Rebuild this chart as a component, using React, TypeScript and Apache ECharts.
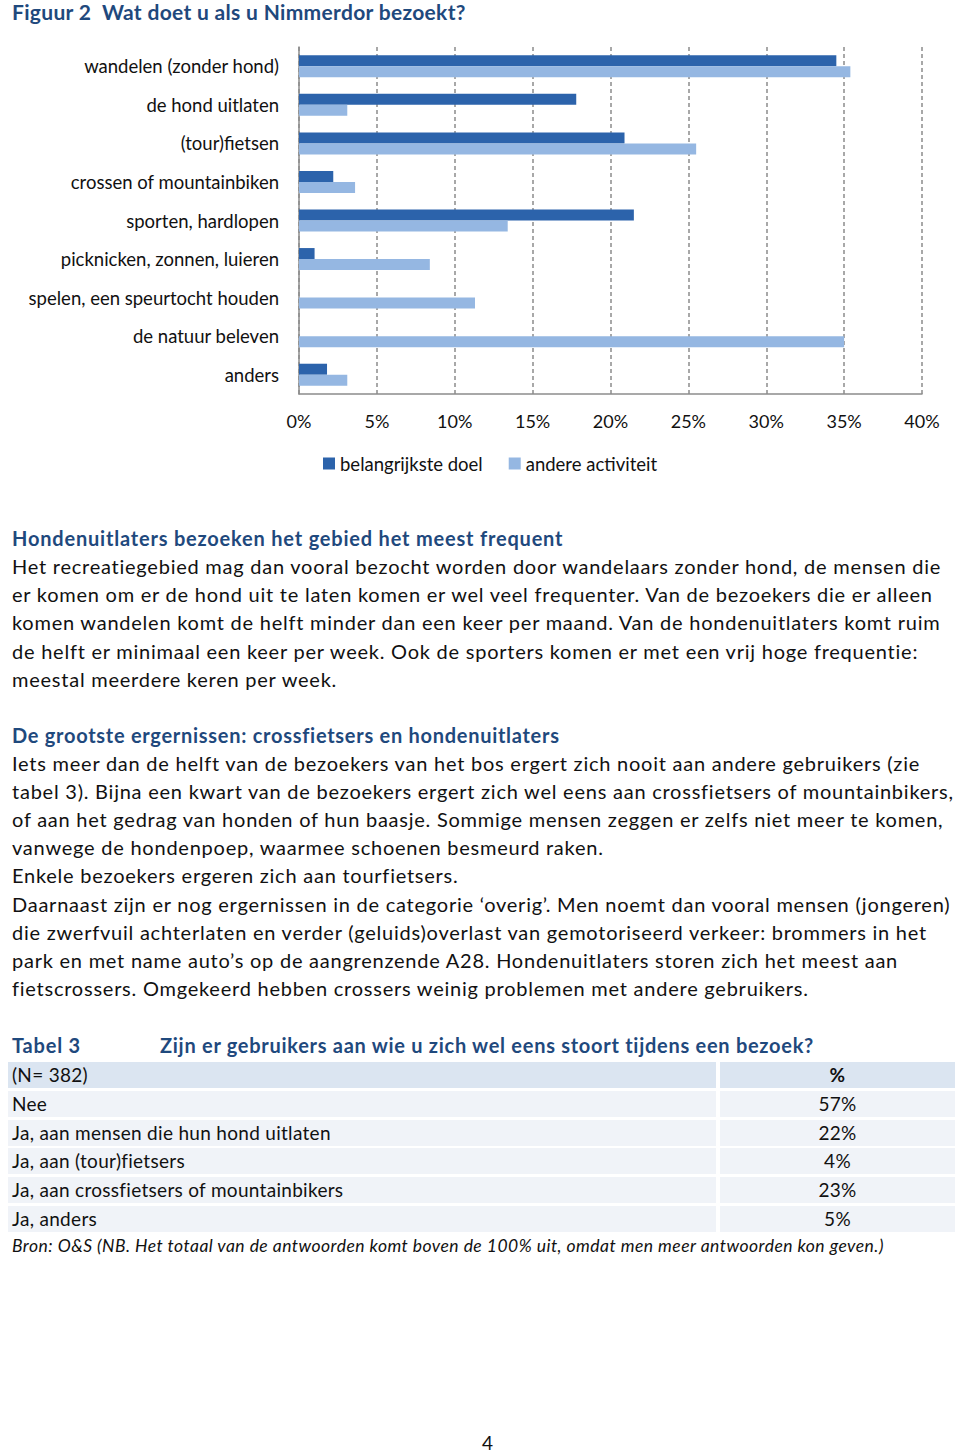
import React, { useEffect, useRef } from "react";
import * as echarts from "echarts";

const categories = [
  "wandelen (zonder hond)",
  "de hond uitlaten",
  "(tour)fietsen",
  "crossen of mountainbiken",
  "sporten, hardlopen",
  "picknicken, zonnen, luieren",
  "spelen, een speurtocht houden",
  "de natuur beleven",
  "anders",
];
const seriesNames = ["belangrijkste doel", "andere activiteit"];
const mainGoal = [34.5, 17.8, 20.9, 2.2, 21.5, 1.0, 0, 0, 1.8];
const otherActivity = [35.4, 3.1, 25.5, 3.6, 13.4, 8.4, 11.3, 35.0, 3.1];

const heading1 = "Hondenuitlaters bezoeken het gebied het meest frequent";
const para1 = [
  "Het recreatiegebied mag dan vooral bezocht worden door wandelaars zonder hond, de mensen die",
  "er komen om er de hond uit te laten komen er wel veel frequenter. Van de bezoekers die er alleen",
  "komen wandelen komt de helft minder dan een keer per maand. Van de hondenuitlaters komt ruim",
  "de helft er minimaal een keer per week. Ook de sporters komen er met een vrij hoge frequentie:",
  "meestal meerdere keren per week.",
];
const heading2 = "De grootste ergernissen: crossfietsers en hondenuitlaters";
const para2 = [
  "Iets meer dan de helft van de bezoekers van het bos ergert zich nooit aan andere gebruikers (zie",
  "tabel 3). Bijna een kwart van de bezoekers ergert zich wel eens aan crossfietsers of mountainbikers,",
  "of aan het gedrag van honden of hun baasje. Sommige mensen zeggen er zelfs niet meer te komen,",
  "vanwege de hondenpoep, waarmee schoenen besmeurd raken.",
  "Enkele bezoekers ergeren zich aan tourfietsers.",
  "Daarnaast zijn er nog ergernissen in de categorie \u2018overig\u2019. Men noemt dan vooral mensen (jongeren)",
  "die zwerfvuil achterlaten en verder (geluids)overlast van gemotoriseerd verkeer: brommers in het",
  "park en met name auto\u2019s op de aangrenzende A28. Hondenuitlaters storen zich het meest aan",
  "fietscrossers. Omgekeerd hebben crossers weinig problemen met andere gebruikers.",
];
const tableLabel = "Tabel 3";
const tableTitle = "Zijn er gebruikers aan wie u zich wel eens stoort tijdens een bezoek?";
const tableHeader = ["(N= 382)", "%"];
const tableRows = [
  "Nee",
  "Ja, aan mensen die hun hond uitlaten",
  "Ja, aan (tour)fietsers",
  "Ja, aan crossfietsers of mountainbikers",
  "Ja, anders",
];
const tableValues = ["57%", "22%", "4%", "23%", "5%"];
const source =
  "Bron: O&S (NB. Het totaal van de antwoorden komt boven de 100% uit, omdat men meer antwoorden kon geven.)";
const pageNumber = "4";

const FONT = "Lato, 'Open Sans', sans-serif";
const DARK = "#1f497d";

export default function App() {
  const ref = useRef<HTMLDivElement>(null);
  useEffect(() => {
    if (!ref.current) return;
    const chart = echarts.init(ref.current, null, { renderer: "svg" });
    chart.setOption({
      animation: false,
      textStyle: { fontFamily: FONT },
      grid: { left: 299, right: 38, top: 47, bottom: 96, containLabel: false },
      legend: {
        data: seriesNames,
        left: 318,
        top: 449,
        icon: "rect",
        itemWidth: 12,
        itemHeight: 12,
        itemGap: 26,
        textStyle: { fontSize: 18.5, color: "#111", fontFamily: FONT },
      },
      xAxis: {
        type: "value",
        min: 0,
        max: 40,
        interval: 5,
        axisLabel: {
          formatter: "{value}%",
          fontSize: 18,
          color: "#111",
          margin: 18,
          fontFamily: FONT,
        },
        axisLine: { show: true, lineStyle: { color: "#8c8c8c", width: 1.5 } },
        axisTick: { show: false },
        splitLine: {
          show: true,
          lineStyle: { color: "#8c8c8c", type: [4, 3], width: 1.5 },
        },
      },
      yAxis: {
        type: "category",
        data: categories,
        inverse: true,
        axisLabel: { fontSize: 18.5, color: "#111", margin: 20, fontFamily: FONT },
        axisLine: { show: true, lineStyle: { color: "#8c8c8c", width: 1.5 } },
        axisTick: { show: false },
        splitLine: { show: false },
      },
      series: [
        {
          name: seriesNames[0],
          type: "bar",
          data: mainGoal,
          barWidth: 11,
          barGap: "0%",
          itemStyle: { color: "#2c63ab" },
        },
        {
          name: seriesNames[1],
          type: "bar",
          data: otherActivity,
          barWidth: 11,
          barGap: "0%",
          itemStyle: { color: "#95b7e2" },
        },
      ],
    });
    return () => chart.dispose();
  }, []);

  const line = (text: string, y: number, extra: React.CSSProperties = {}) => (
    <div
      key={y + text}
      style={{
        position: "absolute",
        left: 12,
        top: y - 14,
        height: 28,
        lineHeight: "28px",
        whiteSpace: "pre",
        fontSize: 20,
        letterSpacing: 0.76,
        color: "#111",
        ...extra,
      }}
    >
      {text}
    </div>
  );

  const rowTop = (i: number) => 1062 + i * 28.8;

  return (
    <div
      style={{
        position: "absolute",
        left: 0,
        top: 0,
        width: 960,
        height: 1455,
        background: "#fff",
        fontFamily: FONT,
        overflow: "hidden",
      }}
    >
      {line("Figuur 2  Wat doet u als u Nimmerdor bezoekt?", 12, {
        fontWeight: 700,
        color: DARK,
        fontSize: 21,
        letterSpacing: 0.32,
      })}
      <div
        ref={ref}
        style={{ position: "absolute", left: 0, top: 0, width: 960, height: 490 }}
      />
      {line(heading1, 538, { fontWeight: 700, color: DARK, letterSpacing: 0.8 })}
      {para1.map((t, i) => line(t, 566 + i * 28.2))}
      {line(heading2, 735, { fontWeight: 700, color: DARK, letterSpacing: 0.72 })}
      {para2.map((t, i) => line(t, 763 + i * 28.1))}
      {line(tableLabel, 1045, { fontWeight: 700, color: DARK, letterSpacing: 0.8 })}
      {line(tableTitle, 1045, { fontWeight: 700, color: DARK, left: 160, letterSpacing: 0.72 })}
      {[tableHeader[0], ...tableRows].map((label, i) => {
        const top = rowTop(i);
        const bg = i === 0 ? "#dbe5f1" : "#f0f3f8";
        const value = i === 0 ? tableHeader[1] : tableValues[i - 1];
        return (
          <React.Fragment key={"row" + i}>
            <div
              style={{
                position: "absolute",
                left: 8,
                top,
                width: 708,
                height: 26,
                background: bg,
              }}
            />
            <div
              style={{
                position: "absolute",
                left: 720,
                top,
                width: 235,
                height: 26,
                background: bg,
              }}
            />
            <div
              style={{
                position: "absolute",
                left: 12,
                top,
                height: 26,
                lineHeight: "26px",
                fontSize: 19,
                letterSpacing: 0.3,
                color: "#111",
                whiteSpace: "pre",
              }}
            >
              {label}
            </div>
            <div
              style={{
                position: "absolute",
                left: 720,
                top,
                width: 235,
                height: 26,
                lineHeight: "26px",
                fontSize: 19,
                letterSpacing: 0.3,
                color: "#111",
                textAlign: "center",
                fontWeight: i === 0 ? 700 : 400,
              }}
            >
              {value}
            </div>
          </React.Fragment>
        );
      })}
      {line(source, 1246, { fontStyle: "italic", fontSize: 17.5, letterSpacing: 0.47 })}
      <div
        style={{
          position: "absolute",
          left: 482,
          top: 1434,
          height: 18,
          lineHeight: "18px",
          fontSize: 19,
          color: "#111",
        }}
      >
        {pageNumber}
      </div>
    </div>
  );
}
